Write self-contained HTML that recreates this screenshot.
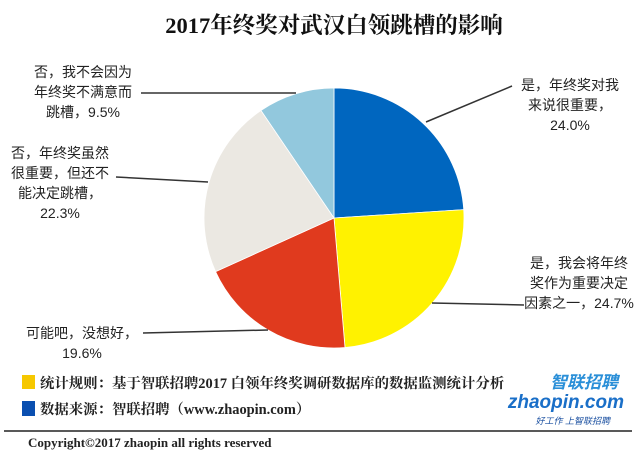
<!DOCTYPE html>
<html><head><meta charset="utf-8"><style>
body{margin:0;background:#fff;}
svg text{font-family:"Liberation Sans","Noto Sans CJK SC",sans-serif;}
.serif{font-family:"Liberation Serif","Noto Serif CJK SC",serif;font-weight:bold;}
</style></head><body>
<svg id="c" width="640" height="458" viewBox="0 0 640 458" xmlns="http://www.w3.org/2000/svg">
<text class="serif" x="334" y="33" text-anchor="middle" font-size="22.5" fill="#111">2017年终奖对武汉白领跳槽的影响</text>
<g id="pie"></g>
<g id="labels"></g>
<rect x="22" y="375" width="13" height="14" fill="#f6c800"/>
<text class="serif" x="40" y="388" font-size="14.4" fill="#222">统计规则：基于智联招聘2017 白领年终奖调研数据库的数据监测统计分析</text>
<rect x="22" y="401" width="13" height="15" fill="#0a4fb0"/>
<text class="serif" x="40" y="414" font-size="14.4" fill="#222">数据来源：智联招聘（www.zhaopin.com）</text>
<g>
<text x="618" y="388" text-anchor="end" font-size="17" font-weight="bold" font-style="italic" fill="#2a8fd8">智联招聘</text>
<text x="624" y="408" text-anchor="end" font-size="19" font-weight="bold" font-style="italic" fill="#1a6fc8">zhaopin.com</text>
<text x="610" y="424" text-anchor="end" font-size="9" font-style="italic" fill="#1a4fa0">好工作  上智联招聘</text>
</g>
<line x1="4" y1="431" x2="632" y2="431" stroke="#222" stroke-width="1.5"/>
<text class="serif" x="28" y="447" font-size="13" fill="#222">Copyright©2017 zhaopin all rights reserved</text>
</svg>
<script>
const categories=["是，年终奖对我来说很重要","是，我会将年终奖作为重要决定因素之一","可能吧，没想好","否，年终奖虽然很重要，但还不能决定跳槽","否，我不会因为年终奖不满意而跳槽"];
const values=[24.0,24.7,19.6,22.3,9.5];
const valueLabels=["24.0%","24.7%","19.6%","22.3%","9.5%"];
const colors=["#0066bf","#fff200","#e03a1e","#ebe8e2","#92c8dd"];
const labelLines=[["是，年终奖对我","来说很重要，","24.0%"],["是，我会将年终","奖作为重要决定","因素之一，24.7%"],["可能吧，没想好，","19.6%"],["否，年终奖虽然","很重要，但还不","能决定跳槽，","22.3%"],["否，我不会因为","年终奖不满意而","跳槽，9.5%"]];
const NS="http://www.w3.org/2000/svg";
const cx=334,cy=218,r=130;
const total=values.reduce((a,b)=>a+b,0);
function pt(a,rr){return [cx+rr*Math.sin(a),cy-rr*Math.cos(a)];}
const pie=document.getElementById('pie');
let a0=0;const mids=[];
values.forEach((v,i)=>{
  const a1=a0+v/total*2*Math.PI;
  const p0=pt(a0,r),p1=pt(a1,r);
  const large=(a1-a0)>Math.PI?1:0;
  const p=document.createElementNS(NS,'path');
  p.setAttribute('d',`M${cx},${cy}L${p0[0]},${p0[1]}A${r},${r} 0 ${large} 1 ${p1[0]},${p1[1]}Z`);
  p.setAttribute('fill',colors[i]);
  p.setAttribute('stroke','#fff');p.setAttribute('stroke-width','0.8');
  
  
  pie.appendChild(p);
  mids.push((a0+a1)/2);
  a0=a1;
});
const lay=[
 {x:570,y:85,anchor:"middle",end:[512,86]},
 {x:579,y:263,anchor:"middle",end:[524,305]},
 {x:82,y:333,anchor:"middle",end:[143,333]},
 {x:60,y:153,anchor:"middle",end:[116,177]},
 {x:83,y:72,anchor:"middle",end:[141,93]}
];
const lg=document.getElementById('labels');
labelLines.forEach((lines,i)=>{
  const L=lay[i];
  const ln=document.createElementNS(NS,'polyline');
  let pts;
  if(i===4){pts=`${L.end[0]},${L.end[1]} ${cx-38},${L.end[1]}`;}
  else if(i===2){pts=`${L.end[0]},${L.end[1]} ${cx-66},${cy+112}`;}
  else if(i===3){pts=`${L.end[0]},${L.end[1]} ${cx-126},${cy-36}`;}
  else if(i===1){pts=`${L.end[0]},${L.end[1]} ${cx+98},${cy+85}`;}
  else {pts=`${L.end[0]},${L.end[1]} ${cx+92},${cy-96}`;}
  ln.setAttribute('points',pts);
  ln.setAttribute('fill','none');ln.setAttribute('stroke','#333');ln.setAttribute('stroke-width','1.5');
  
  
  lg.appendChild(ln);
  lines.forEach((s,j)=>{
    const t=document.createElementNS(NS,'text');
    t.setAttribute('x',L.x);t.setAttribute('y',L.y+j*20+5);
    t.setAttribute('text-anchor',L.anchor);t.setAttribute('font-size','14');t.setAttribute('fill','#222');
    t.textContent=s;
    
    
    lg.appendChild(t);
  });
});
</script>
</body></html>
